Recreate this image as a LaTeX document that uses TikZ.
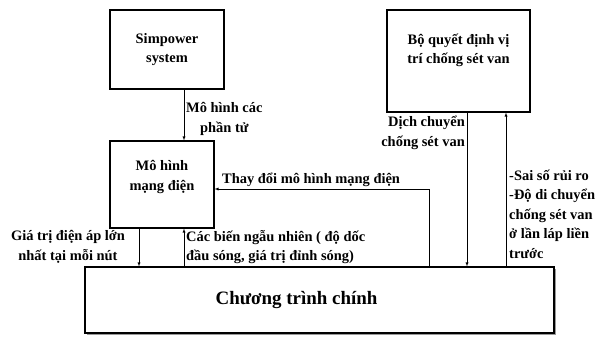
\documentclass[tikz,border=0pt]{standalone}
\usepackage{fontspec}
\setmainfont{Liberation Serif}
\usetikzlibrary{arrows,shadows}

\begin{document}
\begin{tikzpicture}[>=latex, x=1bp, y=1bp]
      \tikzstyle{every node}=[font=\fontsize{14.5}{19.5}\selectfont\bfseries]
      \tikzstyle{khoi}=[draw, line width=1.1bp, align=center, inner sep=0pt]
      \tikzstyle{nhan}=[align=center, inner sep=0pt]
      \useasboundingbox (0,0) rectangle (600,338);

%%
  \node (n_sim) at (167,288.5) [khoi, minimum width=114bp, minimum height=79bp] {Simpower\\system};
  \node (n_mhmd) at (162,153.5) [khoi, minimum width=104bp, minimum height=87bp, text depth=18bp] {Mô hình\\mạng điện};
  \node (n_bqd) at (458.5,277) [khoi, minimum width=143bp, minimum height=102bp, text depth=24bp] {Bộ quyết định vị\\trí chống sét van};
  \node (n_ctc) at (319.5,38) [khoi, fill=white, minimum width=469bp, minimum height=66bp,
        font=\fontsize{19}{22}\selectfont\bfseries,
        drop shadow={shadow xshift=2bp, shadow yshift=-2bp, fill=gray, opacity=.8}] {Chương trình chính\hspace*{46bp}};
  \node (l_mhct) at (186,219) [nhan, anchor=west] {Mô hình các\\phần tử};
  \node (l_dcc) at (465,205) [nhan, align=right, anchor=east] {Dịch chuyển\\chống sét van};
  \node (l_tdm) at (222,155) [nhan, anchor=base west] {Thay đổi mô hình mạng điện};
  \node (l_gtd) at (68,91) [nhan] {Giá trị điện áp lớn\\nhất tại mỗi nút};
  \node (l_cbn) at (186,91) [nhan, align=left, anchor=west] {Các biến ngẫu nhiên ( độ dốc\\đầu sóng, giá trị đỉnh sóng)};
  \node (l_ss) at (509,124) [nhan, align=left, anchor=west] {-Sai số rủi ro\\-Độ di chuyển\\chống sét van\\ở lần láp liền\\trước};
  \draw [->] ([xshift=17bp]n_sim.south) -- ([xshift=17bp]n_sim.south |- n_mhmd.north);
  \draw [->] ([xshift=-23bp]n_mhmd.south) -- ([xshift=-23bp]n_mhmd.south |- n_ctc.north);
  \draw [->] ([xshift=22bp]n_mhmd.south |- n_ctc.north) -- ([xshift=22bp]n_mhmd.south);
  \draw [->] ([xshift=109.5bp]n_ctc.north) |- ([yshift=-4.5bp]n_mhmd.east);
  \draw [->] ([xshift=8.5bp]n_bqd.south) -- ([xshift=8.5bp]n_bqd.south |- n_ctc.north);
  \draw [->] ([xshift=47.5bp]n_bqd.south |- n_ctc.north) -- ([xshift=47.5bp]n_bqd.south);
%

    \end{tikzpicture}
\end{document}
